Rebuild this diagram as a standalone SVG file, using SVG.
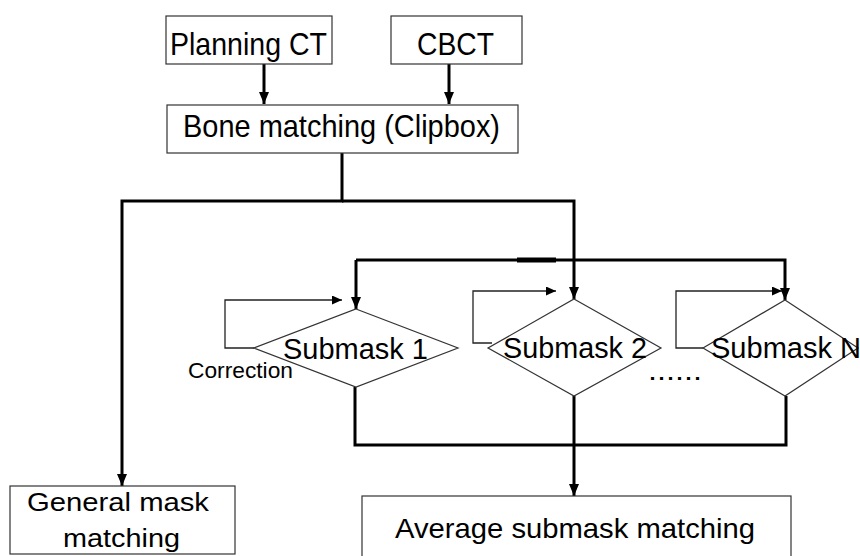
<svg xmlns="http://www.w3.org/2000/svg" width="860" height="556" viewBox="0 0 860 556">
<defs>
<style>
.box{fill:#fff;stroke:#333;stroke-width:1.2}
.dia{fill:#fff;stroke:#333;stroke-width:1.2}
.t{font-family:"Liberation Sans",Arial,sans-serif;fill:#000}
.thick{fill:none;stroke:#000;stroke-width:3}
.thin{fill:none;stroke:#222;stroke-width:1.3}
</style>
<marker id="ah" markerUnits="userSpaceOnUse" markerWidth="12" markerHeight="12" refX="12" refY="5" orient="auto">
<path d="M0,0 L12,5 L0,10 z" fill="#000"/>
</marker>
<marker id="ahs" markerUnits="userSpaceOnUse" markerWidth="10" markerHeight="10" refX="10" refY="4.5" orient="auto">
<path d="M0,0 L10,4.5 L0,9 z" fill="#000"/>
</marker>
</defs>
<rect width="860" height="556" fill="#fff"/>
<g id="connectors">
<path class="thick" d="M264,64 V104" marker-end="url(#ah)"/>
<path class="thick" d="M449,64 V104" marker-end="url(#ah)"/>
<path class="thick" d="M342,153 V201 H122 V486" marker-end="url(#ah)"/>
<path class="thick" d="M342,201 H574 V299" marker-end="url(#ah)"/>
<path class="thick" d="M356,260 V309" marker-end="url(#ah)"/>
<path class="thick" d="M356,260 H785 V300" marker-end="url(#ah)"/>
<line x1="517" y1="260" x2="556" y2="260" stroke="#000" stroke-width="5"/>
<path class="thick" d="M355,387 V445 H786 V396"/>
<path class="thick" d="M574,396 V496" marker-end="url(#ah)"/>
<path class="thin" d="M254,348 H225 V300 H342" marker-end="url(#ahs)"/>
<path class="thin" d="M492,343 H473 V291 H556" marker-end="url(#ahs)"/>
<path class="thin" d="M703,348 H676 V291 H782" marker-end="url(#ahs)"/>
</g>
<g id="planning-ct">
<rect class="box" x="166" y="16" width="166" height="48"/>
<text class="t" x="170" y="55" font-size="32" textLength="157" lengthAdjust="spacingAndGlyphs">Planning CT</text>
</g>
<g id="cbct">
<rect class="box" x="391" y="16" width="131" height="48"/>
<text class="t" x="417" y="55" font-size="32" textLength="77" lengthAdjust="spacingAndGlyphs">CBCT</text>
</g>
<g id="bone-matching">
<rect class="box" x="167" y="105" width="351" height="48"/>
<text class="t" x="183" y="137" font-size="32" textLength="317" lengthAdjust="spacingAndGlyphs">Bone matching (Clipbox)</text>
</g>
<g id="submask-1">
<polygon class="dia" points="356,309 458,348 356,387 254,348"/>
<text class="t" x="283" y="359" font-size="29" textLength="145" lengthAdjust="spacingAndGlyphs">Submask 1</text>
</g>
<g id="correction-label">
<text class="t" x="188" y="378" font-size="22" textLength="105" lengthAdjust="spacingAndGlyphs">Correction</text>
</g>
<g id="submask-2">
<polygon class="dia" points="574,299 661,348 574,396 488,348"/>
<text class="t" x="503" y="358" font-size="29" textLength="144" lengthAdjust="spacingAndGlyphs">Submask 2</text>
</g>
<g id="ellipsis">
<text class="t" x="648" y="380" font-size="28" textLength="54" lengthAdjust="spacingAndGlyphs">......</text>
</g>
<g id="submask-n">
<polygon class="dia" points="785,300 858,348 785,396 703,348"/>
<text class="t" x="711" y="358" font-size="29" textLength="150" lengthAdjust="spacingAndGlyphs">Submask N</text>
</g>
<g id="general-mask">
<rect class="box" x="10" y="486" width="225" height="68"/>
<text class="t" x="27" y="511" font-size="25" textLength="182" lengthAdjust="spacingAndGlyphs">General mask</text>
<text class="t" x="63" y="547" font-size="25" textLength="117" lengthAdjust="spacingAndGlyphs">matching</text>
</g>
<g id="average-submask">
<rect class="box" x="362" y="496" width="429" height="64"/>
<text class="t" x="395" y="538" font-size="28" textLength="360" lengthAdjust="spacingAndGlyphs">Average submask matching</text>
</g>
</svg>
